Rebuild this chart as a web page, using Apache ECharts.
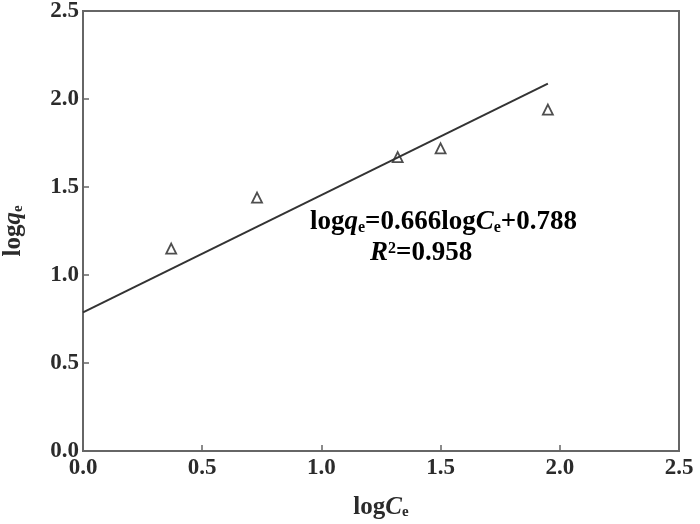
<!DOCTYPE html>
<html>
<head>
<meta charset="utf-8">
<script src="https://cdn.jsdelivr.net/npm/echarts@6/dist/echarts.min.js"></script>
<style>
  html, body { margin: 0; padding: 0; background: #fff; }
  #chart { width: 700px; height: 524px; }
</style>
</head>
<body>
<div id="chart"></div>
<script>
// measured points (logCe, logqe)
var logCe = [0.37, 0.73, 1.32, 1.50, 1.95]
var logQe = [1.15, 1.44, 1.67, 1.72, 1.94]
// fitted line ends
var fitX = [0, 1.95]
var fitY = [0.788, 2.087]
var xTicks = ['0.0', '0.5', '1.0', '1.5', '2.0', '2.5']
var yTicks = ['0.0', '0.5', '1.0', '1.5', '2.0', '2.5']

var serif = '"Liberation Serif", "DejaVu Serif", serif'
var ink = '#2b2b2b'

function richSet(size, subSize) {
  return {
    n: { fontFamily: serif, fontSize: size, fontWeight: 'bold', color: ink },
    i: { fontFamily: serif, fontSize: size, fontStyle: 'italic', fontWeight: 'bold', color: ink },
    s: { fontFamily: serif, fontSize: subSize, fontWeight: 'bold', color: ink, padding: [10, 0, 0, 0] },
    p: { fontFamily: serif, fontSize: subSize, fontWeight: 'bold', color: ink, padding: [0, 0, 10, 0] }
  }
}

var myChart = echarts.init(document.getElementById('chart'))

function axisCommon(labels) {
  return {
    type: 'value',
    min: 0,
    max: 2.5,
    interval: 0.5,
    axisLine: { show: true, onZero: false, lineStyle: { color: '#666', width: 2 } },
    axisTick: { show: true, inside: true, length: 6, lineStyle: { color: '#666', width: 1.5 } },
    splitLine: { show: false },
    axisLabel: {
      fontFamily: serif,
      fontSize: 23,
      fontWeight: 'bold',
      color: ink,
      formatter: function (v) { return labels[Math.round(v / 0.5)] }
    }
  }
}

var xMain = axisCommon(xTicks)
xMain.name = '{n|log}{i|C}{s|e}'
xMain.nameLocation = 'middle'
xMain.nameGap = 44
xMain.nameTextStyle = { rich: richSet(25, 15) }
xMain.axisLabel.margin = 6

var yMain = axisCommon(yTicks)
yMain.name = '{n|log}{i|q}{s|e}'
yMain.nameLocation = 'middle'
yMain.nameRotate = 90
yMain.nameGap = 57
yMain.nameTextStyle = { rich: richSet(25, 15) }
yMain.axisLabel.margin = 4

var option = {
  animation: false,
  grid: {
    left: 83, right: 21, top: 11, bottom: 73,
    outerBoundsMode: 'none',
    containLabel: false,
    show: true, borderColor: '#666', borderWidth: 2
  },
  xAxis: xMain,
  yAxis: yMain,
  graphic: [
    {
      type: 'text',
      left: 310,
      top: 209,
      style: {
        text: '{n|log}{i|q}{s|e}{n|=0.666log}{i|C}{s|e}{n|+0.788}',
        rich: richSet(27, 16)
      }
    },
    {
      type: 'text',
      left: 370,
      top: 240,
      style: {
        text: '{i|R}{p|2}{n|=0.958}',
        rich: richSet(27, 16)
      }
    }
  ],
  series: [
    {
      name: 'fit',
      type: 'line',
      data: fitX.map(function (x, i) { return [x, fitY[i]] }),
      showSymbol: false,
      lineStyle: { color: '#333', width: 2 }
    },
    {
      name: 'data',
      type: 'scatter',
      symbol: 'triangle',
      symbolSize: 10,
      data: logCe.map(function (x, i) { return [x, logQe[i]] }),
      itemStyle: { color: '#fff', borderColor: '#222', borderWidth: 1.8 }
    }
  ]
}

myChart.setOption(option)
window.addEventListener('resize', function () { myChart.resize() })
</script>
</body>
</html>
